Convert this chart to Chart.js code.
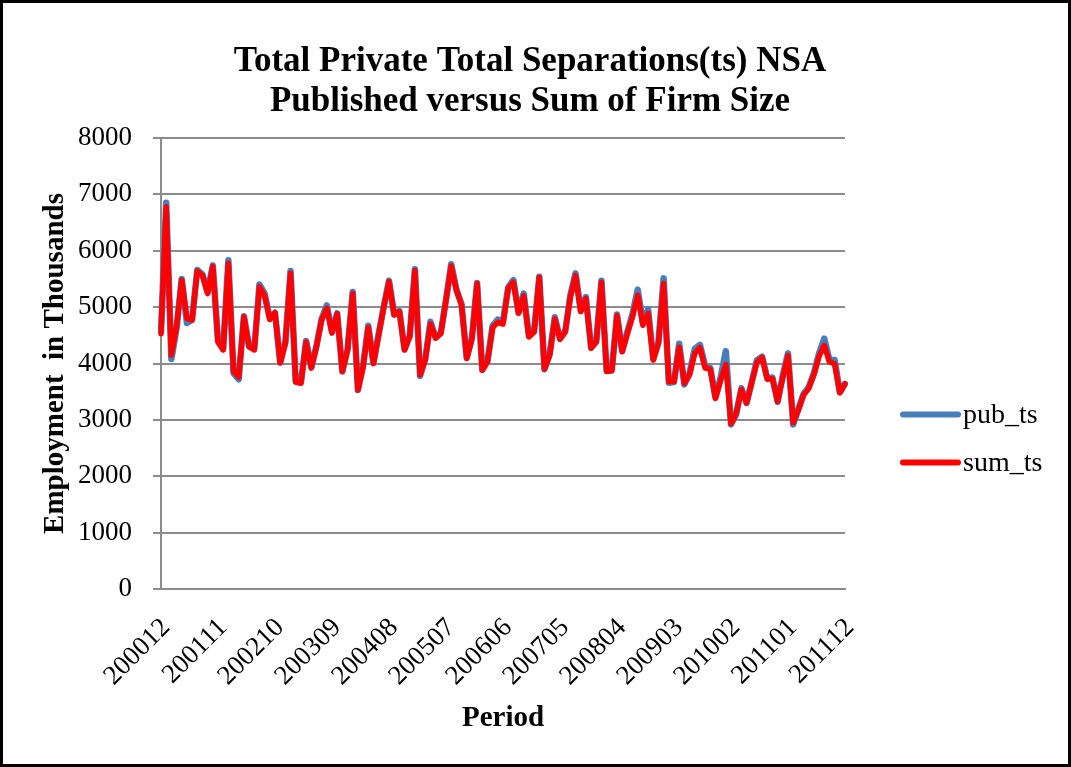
<!DOCTYPE html>
<html>
<head>
<meta charset="utf-8">
<script src="https://cdn.jsdelivr.net/npm/chart.js@4.4.1/dist/chart.umd.min.js"></script>
<style>
  html, body { margin: 0; padding: 0; background: #fff; }
  canvas { display: block; }
</style>
</head>
<body>
<canvas id="chart" width="1071" height="767"></canvas>
<script>
// monthly periods 200012 .. 201112
const periods = [];
for (let y = 2000, m = 12; periods.length < 133; ) {
  periods.push(String(y) + String(m).padStart(2, '0'));
  m++;
  if (m > 12) { m = 1; y++; }
}

const shownTicks = ['200012', '200111', '200210', '200309', '200408', '200507', '200606',
  '200705', '200804', '200903', '201002', '201101', '201112'];

const pubTs = [
  4560, 6850, 4080, 4620, 5500, 4720, 4780, 5660, 5580, 5260,
  5740, 4400, 4260, 5830, 3830, 3720, 4840, 4300, 4260, 5400,
  5240, 4800, 4900, 4020, 4380, 5640, 3680, 3660, 4400, 3930,
  4310, 4790, 5030, 4560, 4890, 3860, 4250, 5270, 3530, 3960,
  4670, 4010, 4520, 5020, 5470, 4870, 4930, 4250, 4490, 5670,
  3780, 4080, 4740, 4460, 4550, 5130, 5760, 5320, 5050, 4100,
  4450, 5430, 3890, 4040, 4670, 4780, 4750, 5350, 5480, 4900,
  5240, 4490, 4570, 5540, 3900, 4160, 4820, 4440, 4570, 5210,
  5600, 4940, 5180, 4280, 4390, 5470, 3870, 3880, 4870, 4220,
  4560, 4880, 5310, 4720, 4960, 4080, 4380, 5510, 3660, 3670,
  4350, 3630, 3830, 4260, 4330, 3960, 3920, 3400, 3750, 4220,
  2920, 3100, 3560, 3300, 3670, 4060, 4120, 3740, 3750, 3320,
  3790, 4180, 2920, 3190, 3460, 3580, 3830, 4180, 4440, 4060,
  4060, 3490, 3640
];

const sumTs = [
  4530, 6780, 4150, 4650, 5480, 4800, 4770, 5640, 5560, 5240,
  5720, 4380, 4240, 5780, 3860, 3760, 4830, 4300, 4240, 5360,
  5200, 4780, 4900, 4010, 4360, 5600, 3670, 3650, 4380, 3920,
  4300, 4770, 4980, 4540, 4880, 3860, 4240, 5240, 3530, 3940,
  4640, 4000, 4500, 5000, 5450, 4860, 4920, 4240, 4480, 5650,
  3800, 4070, 4700, 4450, 4530, 5120, 5730, 5300, 5040, 4090,
  4440, 5420, 3880, 4030, 4640, 4730, 4700, 5330, 5440, 4890,
  5200, 4470, 4560, 5530, 3900, 4150, 4790, 4430, 4560, 5180,
  5560, 4920, 5150, 4270, 4380, 5440, 3860, 3870, 4850, 4210,
  4530, 4830, 5210, 4680, 4890, 4060, 4360, 5420, 3680, 3680,
  4290, 3650, 3800, 4180, 4280, 3920, 3900, 3380, 3700, 3980,
  2930, 3110, 3540, 3300, 3660, 4020, 4110, 3720, 3730, 3330,
  3760, 4140, 2950, 3180, 3440, 3560, 3800, 4130, 4320, 4030,
  3990, 3480, 3640
];

const serif = "'Liberation Serif', 'Times New Roman', serif";

// white page + black frame
const framePlugin = {
  id: 'frame',
  beforeDraw(chart) {
    const ctx = chart.ctx;
    ctx.save();
    ctx.fillStyle = '#fff';
    ctx.fillRect(0, 0, chart.width, chart.height);
    ctx.restore();
  },
  afterDraw(chart) {
    const ctx = chart.ctx;
    ctx.save();
    ctx.strokeStyle = '#000';
    ctx.lineWidth = 3;
    ctx.strokeRect(1.5, 1.5, chart.width - 3, chart.height - 3);
    ctx.restore();
  }
};

// legend to the right of the plot, a bit below middle (like Excel)
const sideLegend = {
  id: 'sideLegend',
  afterDraw(chart) {
    const ctx = chart.ctx;
    const area = chart.chartArea;
    const x0 = area.right + 58;
    const mid = (area.top + area.bottom) / 2;
    ctx.save();
    ctx.font = '28px ' + serif;
    ctx.textBaseline = 'middle';
    ctx.fillStyle = '#000';
    chart.data.datasets.forEach((ds, i) => {
      const y = mid + 51 + i * 48;
      ctx.strokeStyle = ds.borderColor;
      ctx.lineWidth = 6;
      ctx.lineCap = 'round';
      ctx.beginPath();
      ctx.moveTo(x0, y);
      ctx.lineTo(x0 + 55, y);
      ctx.stroke();
      ctx.fillText(ds.label, x0 + 60, y + 1);
    });
    ctx.restore();
  }
};

new Chart(document.getElementById('chart'), {
  type: 'line',
  data: {
    labels: periods,
    datasets: [
      { label: 'pub_ts', data: pubTs, borderColor: '#4a7ebb', borderWidth: 6.5, order: 2 },
      { label: 'sum_ts', data: sumTs, borderColor: '#ff0000', borderWidth: 5.5, order: 1 }
    ]
  },
  options: {
    responsive: false,
    animation: false,
    devicePixelRatio: 1,
    elements: {
      point: { radius: 0 },
      line: { tension: 0, borderJoinStyle: 'round', borderCapStyle: 'round' }
    },
    layout: { padding: { top: 10, left: 10, right: 21, bottom: 10 } },
    plugins: {
      legend: { display: false },
      tooltip: { enabled: false },
      title: {
        display: true,
        text: ['Total Private Total Separations(ts) NSA', 'Published versus Sum of Firm Size'],
        color: '#000',
        font: { family: serif, size: 35, weight: 'bold', lineHeight: 1.143 },
        padding: { top: 32, bottom: 16 }
      }
    },
    scales: {
      x: {
        grid: { display: false, drawTicks: false },
        border: { color: '#8c8c8c', width: 2 },
        ticks: {
          autoSkip: false,
          minRotation: 45,
          maxRotation: 45,
          padding: 23,
          labelOffset: 5,
          color: '#000',
          font: { family: serif, size: 27 },
          callback(value) {
            const lab = this.getLabelForValue(value);
            return shownTicks.includes(lab) ? lab : '';
          }
        },
        title: {
          display: true,
          text: 'Period',
          color: '#000',
          font: { family: serif, size: 29, weight: 'bold', lineHeight: 1.2 },
          padding: { top: 0, bottom: 21 }
        },
        afterFit(scale) { scale.height = 168; }
      },
      y: {
        min: 0,
        max: 8000,
        ticks: {
          stepSize: 1000,
          padding: 21,
          color: '#000',
          font: { family: serif, size: 27 },
          callback: (v) => String(v)
        },
        grid: { color: '#8c8c8c', lineWidth: 2, tickLength: 8 },
        border: { color: '#8c8c8c', width: 2 },
        title: {
          display: true,
          text: 'Employment  in Thousands',
          color: '#000',
          font: { family: serif, size: 29, weight: 'bold', lineHeight: 1.2 },
          padding: { top: 28, bottom: 0 }
        },
        afterFit(scale) { scale.width = 151; }
      },
      yRight: {
        position: 'right',
        grid: { display: false, drawTicks: false },
        border: { display: false },
        ticks: { display: false },
        afterFit(scale) { scale.width = 205; }
      }
    }
  },
  plugins: [framePlugin, sideLegend]
});
</script>
</body>
</html>
